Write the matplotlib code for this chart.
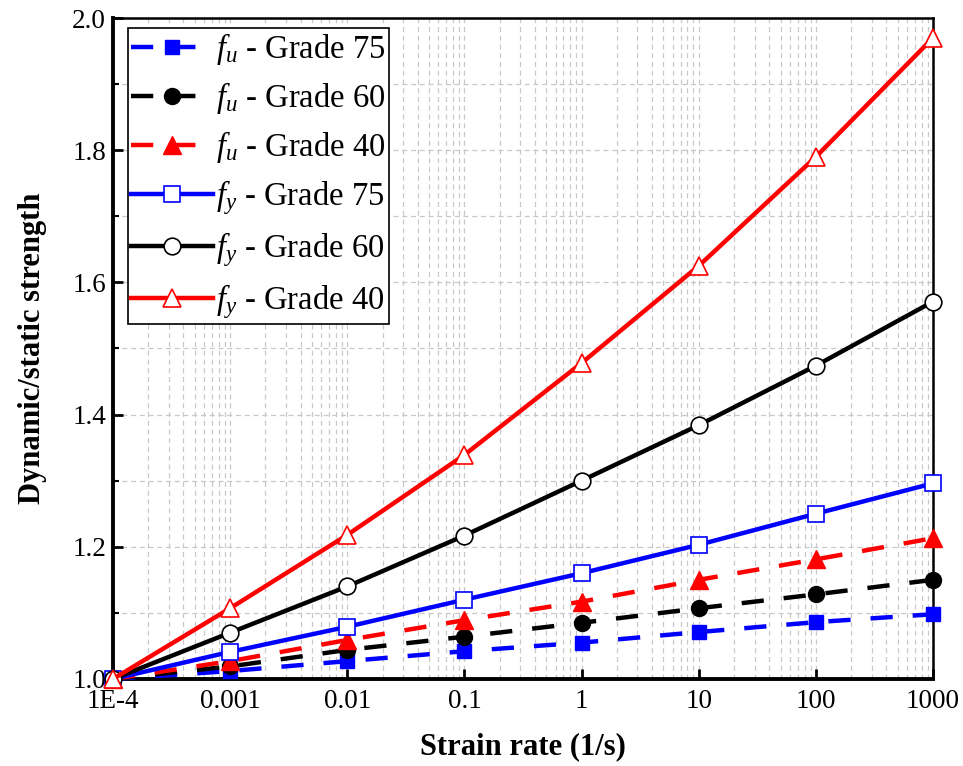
import numpy as np
import matplotlib
matplotlib.use("Agg")
import matplotlib.pyplot as plt
from matplotlib.ticker import FixedLocator, MultipleLocator, LogLocator, NullFormatter

plt.rcParams['font.family'] = ['Liberation Serif', 'DejaVu Serif']
plt.rcParams['mathtext.fontset'] = 'custom'
plt.rcParams['mathtext.rm'] = 'Liberation Serif'
plt.rcParams['mathtext.it'] = 'Liberation Serif:italic'

# strain rates (1/s)
strain_rate = [1e-4, 1e-3, 1e-2, 1e-1, 1, 10, 100, 1000]
rate_labels = ['1E-4', '0.001', '0.01', '0.1', '1', '10', '100', '1000']

# dynamic increase factors, ultimate strength
fu_75 = [1.000, 1.012, 1.027, 1.042, 1.055, 1.071, 1.086, 1.098]
fu_60 = [1.000, 1.019, 1.044, 1.064, 1.085, 1.107, 1.128, 1.150]
fu_40 = [1.000, 1.027, 1.059, 1.089, 1.117, 1.150, 1.181, 1.213]

# dynamic increase factors, yield strength
fy_75 = [1.000, 1.041, 1.079, 1.120, 1.160, 1.203, 1.250, 1.296]
fy_60 = [1.000, 1.070, 1.140, 1.217, 1.300, 1.384, 1.474, 1.571]
fy_40 = [1.000, 1.107, 1.218, 1.339, 1.478, 1.625, 1.790, 1.970]

fig = plt.figure(figsize=(9.63, 7.66), dpi=100)
ax = fig.add_axes([0.1173, 0.1136, 0.8516, 0.8629])

lw = 3.2
dash = (5, 4.5)

ax.plot(strain_rate, fu_75, color='blue', lw=lw, dashes=dash, marker='s', ms=10,
        mfc='blue', mec='blue', label=r'$f_u$ - Grade 75', clip_on=False, zorder=3)
ax.plot(strain_rate, fu_60, color='black', lw=lw, dashes=dash, marker='o', ms=11.5,
        mfc='black', mec='black', label=r'$f_u$ - Grade 60', clip_on=False, zorder=3)
ax.plot(strain_rate, fu_40, color='red', lw=lw, dashes=dash, marker='^', ms=12.5,
        mfc='red', mec='red', label=r'$f_u$ - Grade 40', clip_on=False, zorder=3)
ax.plot(strain_rate, fy_75, color='blue', lw=lw, marker='s', ms=11,
        mfc='white', mec='blue', mew=1.2, label=r'$f_y$ - Grade 75', clip_on=False, zorder=4)
ax.plot(strain_rate, fy_60, color='black', lw=lw, marker='o', ms=12,
        mfc='white', mec='black', mew=1.2, label=r'$f_y$ - Grade 60', clip_on=False, zorder=4)
ax.plot(strain_rate, fy_40, color='red', lw=lw, marker='^', ms=13.5,
        mfc='white', mec='red', mew=1.2, label=r'$f_y$ - Grade 40', clip_on=False, zorder=4)

ax.set_xscale('log')
ax.set_xlim(1e-4, 1000)
ax.set_ylim(1.0, 2.0)

ax.xaxis.set_major_locator(FixedLocator(strain_rate))
ax.set_xticklabels(rate_labels)
ax.xaxis.set_minor_locator(LogLocator(base=10, subs=np.arange(2, 10)))
ax.xaxis.set_minor_formatter(NullFormatter())
ax.yaxis.set_major_locator(MultipleLocator(0.2))
ax.yaxis.set_minor_locator(MultipleLocator(0.1))
ax.yaxis.set_major_formatter(plt.FuncFormatter(lambda v, p: f'{v:.1f}'))

ax.tick_params(axis='both', which='major', direction='in', length=7, width=2,
               labelsize=19.5, top=False, right=False)
ax.tick_params(axis='x', which='major', pad=7)
ax.tick_params(axis='y', which='major', pad=5)
ax.tick_params(axis='y', which='minor', direction='in', length=4, width=1.5)
ax.tick_params(axis='x', which='minor', length=0)

ax.grid(True, which='both', color='#c8c8c8', linestyle=(0, (4, 3)), linewidth=0.9)
ax.set_axisbelow(True)

for side in ['left', 'bottom']:
    ax.spines[side].set_linewidth(2.8)
for side in ['top', 'right']:
    ax.spines[side].set_linewidth(1.8)

ax.set_xlabel('Strain rate (1/s)', fontsize=22, fontweight='bold', labelpad=13)
ax.set_ylabel('Dynamic/static strength', fontsize=22, fontweight='bold', labelpad=18)

leg = ax.legend(loc='upper left', bbox_to_anchor=(0.018, 0.985), fontsize=23.5,
                handlelength=2.5, handletextpad=0.1, labelspacing=0.4,
                borderpad=0.1, borderaxespad=0.0, numpoints=1, fancybox=False,
                framealpha=1.0, edgecolor='black')
leg.get_frame().set_linewidth(1.2)

fig.savefig('out.png', dpi=100)
